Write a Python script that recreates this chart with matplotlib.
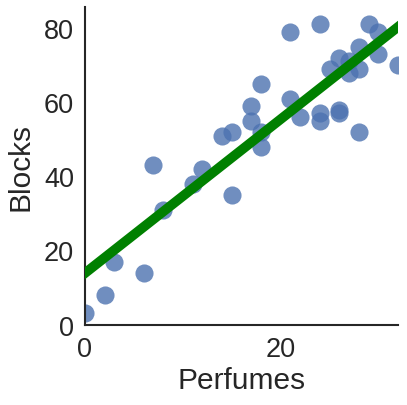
import matplotlib.pyplot as plt
import numpy as np

# puntos
perfumes = [0, 2, 3, 6, 7, 8, 11, 12, 14, 15, 15, 17, 17, 18, 18, 18,
            21, 21, 22, 24, 24, 24, 25, 26, 26, 26, 27, 27, 28, 28, 28,
            29, 30, 30, 32]
blocks = [3, 8, 17, 14, 43, 31, 38, 42, 51, 52, 35, 59, 55, 65, 52, 48,
          79, 61, 56, 81, 57, 55, 69, 72, 58, 57, 71, 68, 75, 69, 52,
          81, 79, 73, 70]

x = np.array(perfumes, dtype=float)
y = np.array(blocks, dtype=float)

plt.rcParams['font.family'] = ['Liberation Sans', 'DejaVu Sans']

fig = plt.figure(figsize=(4.07, 4.06), dpi=100)
ax = fig.add_axes([85 / 407, (406 - 325.6) / 406, (398 - 85) / 407, (325.6 - 8) / 406])

ax.scatter(x, y, s=170, color='#4C72B0', alpha=0.8, linewidths=0, zorder=2)

# recta de regresion
m, b = np.polyfit(x, y, 1)
xs = np.linspace(0, 32, 100)
ax.plot(xs, m * xs + b, color='green', linewidth=7, zorder=3)

ax.set_xlim(0, 32)
ax.set_ylim(0, 85.7)
ax.set_xticks([0, 20])
ax.set_yticks([0, 20, 40, 60, 80])
ax.tick_params(length=0, labelsize=19.5, colors='#262626', pad=8)
ax.set_xlabel('Perfumes', fontsize=21.5, color='#262626', labelpad=3)
ax.set_ylabel('Blocks', fontsize=21.5, color='#262626', labelpad=7)

for s in ['top', 'right']:
    ax.spines[s].set_visible(False)
for s in ['left', 'bottom']:
    ax.spines[s].set_color('#262626')
    ax.spines[s].set_linewidth(1.5)

fig.savefig('out.png', dpi=100)
